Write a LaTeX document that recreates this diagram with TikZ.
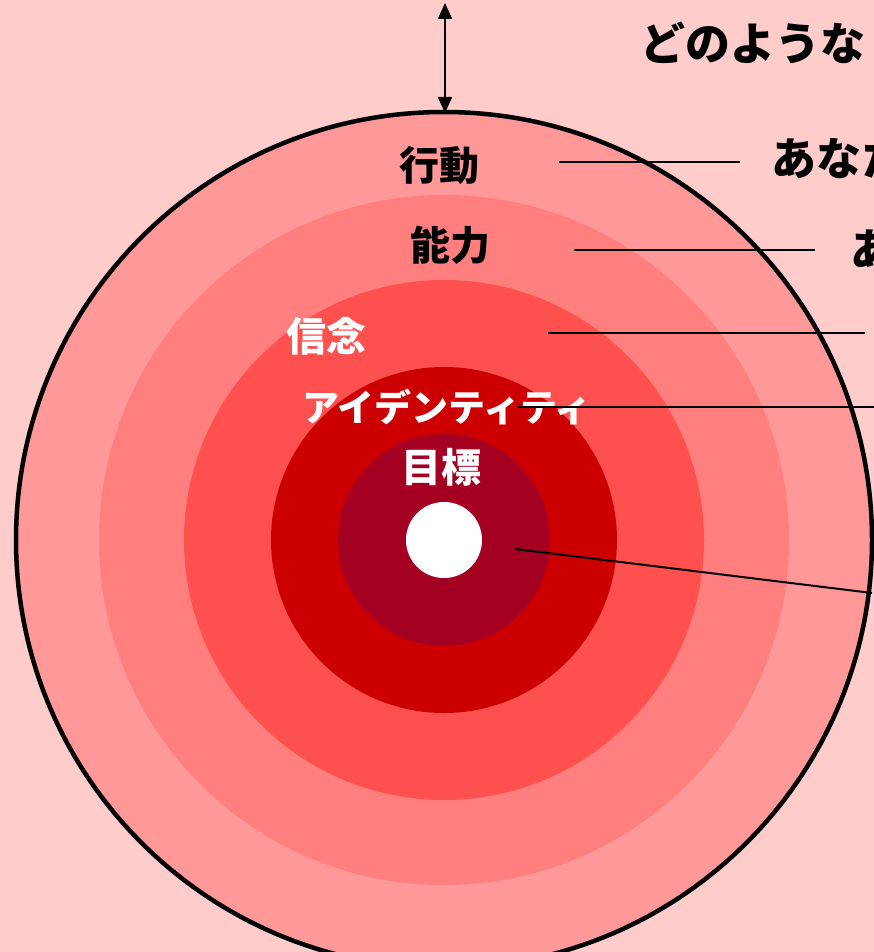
\documentclass[tikz,border=0pt]{standalone}
\usepackage{fontspec}
\setmainfont{Noto Sans CJK JP}
\usetikzlibrary{arrows.meta}
\definecolor{bg}{HTML}{FFCCCC}
\definecolor{ringA}{HTML}{FF9999}
\definecolor{ringB}{HTML}{FF7F7F}
\definecolor{ringC}{HTML}{FF5050}
\definecolor{ringD}{HTML}{CC0000}
\definecolor{ringE}{HTML}{A30022}
\begin{document}
\begin{tikzpicture}[x=1pt,y=-1pt,
  ring/.style={circle, inner sep=0pt, outer sep=0pt, draw=none},
  lbl/.style={font=\bfseries\fontsize{40}{40}\selectfont, inner sep=0pt},
  big/.style={font=\bfseries\fontsize{45}{45}\selectfont, inner sep=0pt, anchor=west},
  leader/.style={draw=black, line width=1.6pt}]
\useasboundingbox (0,0) rectangle (874,952);
\clip (0,0) rectangle (874,952);
\fill[bg] (0,0) rectangle (874,952);
% rings
\node[ring, fill=ringA, draw=black, line width=4.5pt, outer sep=2.25pt, minimum size=856pt] (outer) at (444,540) {};
\node[ring, fill=ringB, minimum size=690pt] (r2) at (444,540) {};
\node[ring, fill=ringC, minimum size=520pt] (r3) at (444,540) {};
\node[ring, fill=ringD, minimum size=346pt] (r4) at (444,540) {};
\node[ring, fill=ringE, minimum size=212pt] (r5) at (444,540) {};
\node[ring, fill=white, minimum size=76pt] (dot) at (444,540) {};
% arrow
\coordinate (atop) at (445,3);
\draw[line width=2pt, {Triangle[length=16pt,width=14pt]}-{Triangle[length=16pt,width=14pt]}] (atop) -- (445,113);
% labels
\node[lbl] (l1) at (439,165) {行動};
\node[lbl] (l2) at (450,245) {能力};
\node[lbl, text=white] (l3) at (326,336) {信念};
\node[lbl, text=white, font=\bfseries\fontsize{37}{37}\selectfont] (l4) at (447,407) {アイデンティティ};
\node[lbl, text=white] (l5) at (441,467) {目標};
% right texts
\node[big] (t0) at (640,43) {どのような};
\node[big] (t1) at (771,158) {あなた};
\node[big] (t2) at (850,250) {あ};
% leader lines
\coordinate (a1) at (559,162); \coordinate (b1) at (740,162);
\coordinate (a2) at (574,250); \coordinate (b2) at (815,250);
\coordinate (a3) at (548,333); \coordinate (b3) at (865,333);
\coordinate (a4) at (517,407); \coordinate (b4) at (880,407);
\coordinate (a5) at (515,549); \coordinate (b5) at (872,593);
\draw[leader] (a1) -- (b1);
\draw[leader] (a2) -- (b2);
\draw[leader] (a3) -- (b3);
\draw[leader] (a4) -- (b4);
\draw[leader, line width=2pt] (a5) -- (b5);
\end{tikzpicture}
\end{document}
